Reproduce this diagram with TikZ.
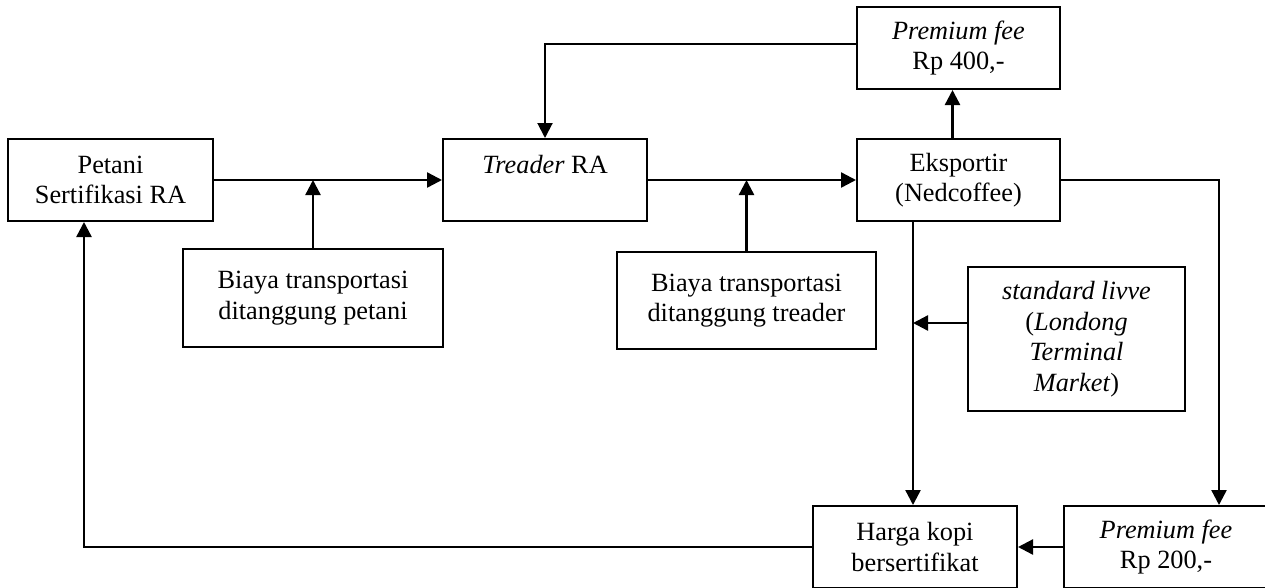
\documentclass[tikz,border=0pt]{standalone}
\usepackage{fontspec}
\setmainfont{Liberation Serif}
\usetikzlibrary{arrows.meta}
\begin{document}
\begin{tikzpicture}[x=1pt,y=-1pt,
  box/.style={draw,line width=2pt,align=center,inner sep=0pt,font=\fontsize{26.3}{30.5}\selectfont},
  conn/.style={line width=2.4pt,-{Triangle[length=15pt,width=15pt]}},
  plain/.style={line width=2.4pt}]
\useasboundingbox (0,0) rectangle (1265,587);
\clip (0,0) rectangle (1265,587);
\node[box,minimum width=205pt,minimum height=82pt] (petani) at (110.5,180) {Petani\\Sertifikasi RA};
\node[box,minimum width=204pt,minimum height=82pt] (treader) at (545,180) {\textit{Treader} RA\\~};
\node[box,minimum width=203pt,minimum height=82pt] (eks) at (958.5,180) {Eksportir\\(Nedcoffee)};
\node[box,minimum width=203pt,minimum height=82pt] (prem400) at (958.5,48) {\textit{Premium fee}\\Rp 400,-};
\node[box,minimum width=260pt,minimum height=98pt] (biaya1) at (313,298) {Biaya transportasi\\ditanggung petani};
\node[box,minimum width=259pt,minimum height=97pt] (biaya2) at (746.5,300.5) {Biaya transportasi\\ditanggung treader};
\node[box,minimum width=217pt,minimum height=144pt] (std) at (1076.5,339) {\textit{standard livve}\\(\textit{Londong}\\\textit{Terminal}\\\textit{Market})};
\node[box,minimum width=204pt,minimum height=82pt] (harga) at (915,547) {Harga kopi\\bersertifikat};
\node[box,minimum width=204pt,minimum height=82pt] (prem200) at (1166,547) {\textit{Premium fee}\\Rp 200,-};
\coordinate (c1) at (1219,180);
\coordinate (c2) at (84,547);
\coordinate (c3) at (913,323);
\draw[conn] (petani.east) -- (treader.west);
\draw[conn] (treader.east) -- (eks.west);
\draw[conn] (biaya1.north) -- (biaya1.north |- petani.east);
\draw[conn] (biaya2.north) -- (biaya2.north |- treader.east);
\draw[conn] ([xshift=-6pt]eks.north) -- ([xshift=-6pt]prem400.south);
\draw[conn,line width=2pt] ([yshift=4pt]prem400.west) -| (treader.north);
\draw[conn] (eks.east) -- (c1) -- (c1 |- prem200.north);
\draw[conn] (eks.south -| c3) -- (c3 |- harga.north);
\draw[conn] (std.west |- c3) -- (c3);
\draw[conn] (prem200.west) -- (harga.east);
\draw[conn] (harga.west) -- (c2) -- (c2 |- petani.south);
\end{tikzpicture}
\end{document}
